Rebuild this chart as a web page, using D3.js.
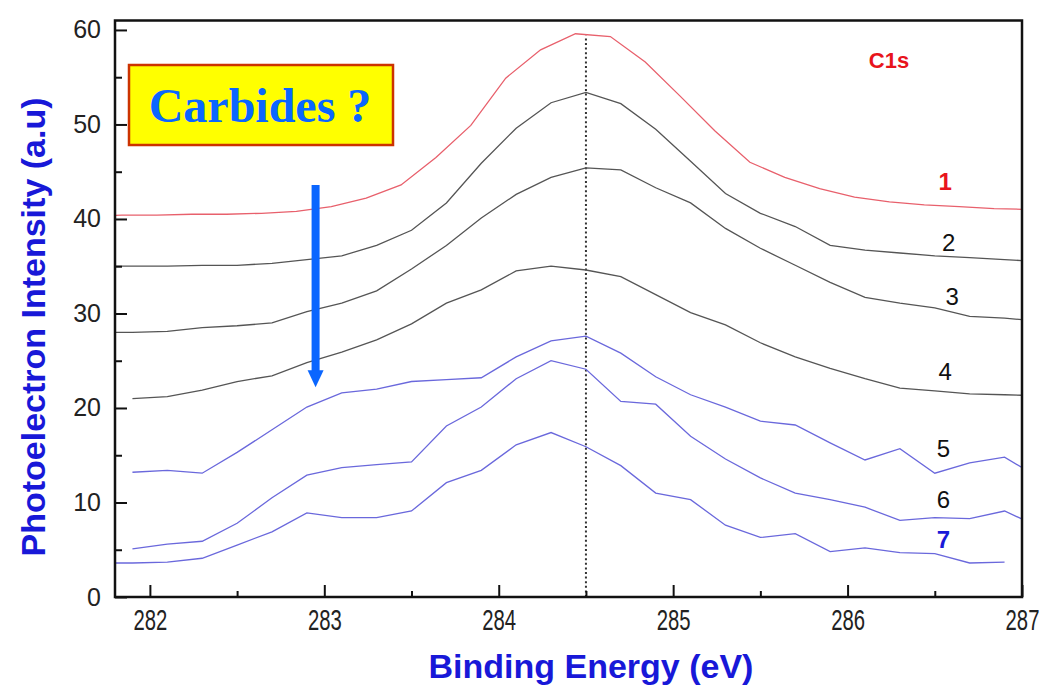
<!DOCTYPE html>
<html>
<head>
<meta charset="utf-8">
<script src="https://cdn.jsdelivr.net/npm/d3@7"></script>
<style>
  body { margin: 0; background: #fff; }
  svg { display: block; font-family: Arial, "Liberation Sans", sans-serif; }
</style>
</head>
<body>
<svg width="1047" height="687"></svg>
<script>
// binding energy grid for spectrum 1 (slightly shifted sampling)
const energy1 = [281.64, 281.84, 282.04, 282.24, 282.44, 282.64, 282.84, 283.04, 283.24, 283.44,
  283.64, 283.84, 284.04, 284.24, 284.44, 284.64, 284.84, 285.04, 285.24, 285.44,
  285.64, 285.84, 286.04, 286.24, 286.44, 286.64, 286.84, 287.04];
const curve1 = [40.3, 40.4, 40.4, 40.5, 40.5, 40.6, 40.8, 41.3, 42.2, 43.6,
  46.5, 49.9, 54.9, 57.9, 59.6, 59.3, 56.6, 53.0, 49.3, 46.0,
  44.4, 43.2, 42.3, 41.8, 41.5, 41.3, 41.1, 41.0];

// binding energy grid for spectra 2-7
const energy = [281.7, 281.9, 282.1, 282.3, 282.5, 282.7, 282.9, 283.1, 283.3, 283.5,
  283.7, 283.9, 284.1, 284.3, 284.5, 284.7, 284.9, 285.1, 285.3, 285.5,
  285.7, 285.9, 286.1, 286.3, 286.5, 286.7, 286.9, 287.1];
const curve2 = [35.0, 35.0, 35.0, 35.1, 35.1, 35.3, 35.7, 36.1, 37.2, 38.8,
  41.7, 45.9, 49.6, 52.3, 53.4, 52.2, 49.5, 46.1, 42.7, 40.6,
  39.2, 37.2, 36.7, 36.4, 36.1, 35.9, 35.7, 35.5];
const curve3 = [28.0, 28.0, 28.1, 28.5, 28.7, 29.0, 30.2, 31.1, 32.4, 34.7,
  37.2, 40.1, 42.6, 44.4, 45.4, 45.2, 43.3, 41.7, 39.0, 36.9,
  35.1, 33.3, 31.7, 31.1, 30.6, 29.7, 29.5, 29.2];
const curve4 = [null, 21.0, 21.2, 21.9, 22.8, 23.4, 24.8, 25.9, 27.2, 28.9,
  31.1, 32.5, 34.5, 35.0, 34.6, 33.9, 32.0, 30.1, 28.8, 26.9,
  25.4, 24.2, 23.1, 22.1, 21.8, 21.5, 21.4, 21.3];
const curve5 = [null, 13.2, 13.4, 13.1, 15.3, 17.7, 20.1, 21.6, 22.0, 22.8,
  23.0, 23.2, 25.4, 27.1, 27.6, 25.8, 23.3, 21.4, 20.1, 18.6,
  18.2, 16.3, 14.5, 15.7, 13.1, 14.2, 14.8, 12.6];
const curve6 = [null, 5.1, 5.6, 5.9, 7.8, 10.5, 12.9, 13.7, 14.0, 14.3,
  18.1, 20.1, 23.1, 25.0, 24.1, 20.7, 20.4, 17.0, 14.6, 12.6,
  11.0, 10.3, 9.5, 8.1, 8.4, 8.3, 9.1, 7.4];
const curve7 = [3.6, 3.6, 3.7, 4.1, 5.5, 6.9, 8.9, 8.4, 8.4, 9.1,
  12.1, 13.4, 16.1, 17.4, 15.9, 13.9, 11.0, 10.3, 7.6, 6.3,
  6.7, 4.8, 5.2, 4.7, 4.6, 3.6, 3.7, null];

const xTicks = [282, 283, 284, 285, 286, 287];
const xMinor = [282.5, 283.5, 284.5, 285.5, 286.5];
const yTicks = [0, 10, 20, 30, 40, 50, 60];
const yMinor = [5, 15, 25, 35, 45, 55];

const series = [
  { name: "1", x: energy1, y: curve1, color: "#e8606c", label: [286.56, 43.1], labelColor: "#e8141c", bold: true },
  { name: "2", x: energy, y: curve2, color: "#555", label: [286.58, 36.6], labelColor: "#111", bold: false },
  { name: "3", x: energy, y: curve3, color: "#555", label: [286.6, 30.9], labelColor: "#111", bold: false },
  { name: "4", x: energy, y: curve4, color: "#555", label: [286.56, 23.0], labelColor: "#111", bold: false },
  { name: "5", x: energy, y: curve5, color: "#6a68dc", label: [286.55, 14.8], labelColor: "#111", bold: false },
  { name: "6", x: energy, y: curve6, color: "#6a68dc", label: [286.55, 9.4], labelColor: "#111", bold: false },
  { name: "7", x: energy, y: curve7, color: "#6a68dc", label: [286.55, 5.2], labelColor: "#1a1ad8", bold: true },
];

const peakEnergy = 284.5;
const peakTop = 59.4;

const svg = d3.select("svg");
const plotLeft = 115, plotRight = 1022, plotTop = 20.5, plotBottom = 597;

const x = d3.scaleLinear().domain([281.8, 287]).range([plotLeft, plotRight]);
const y = d3.scaleLinear().domain([0, 61]).range([plotBottom, plotTop]);

svg.append("clipPath").attr("id", "plot")
  .append("rect")
  .attr("x", plotLeft).attr("y", plotTop)
  .attr("width", plotRight - plotLeft).attr("height", plotBottom - plotTop);

// dotted line at the peak
svg.append("line")
  .attr("x1", x(peakEnergy)).attr("x2", x(peakEnergy))
  .attr("y1", y(0)).attr("y2", y(peakTop))
  .attr("stroke", "#333")
  .attr("stroke-width", 2)
  .attr("stroke-dasharray", "2,2.6");

const line = d3.line()
  .defined((d) => d[1] != null)
  .x((d) => x(d[0]))
  .y((d) => y(d[1]));

svg.append("g").attr("clip-path", "url(#plot)")
  .selectAll("path")
  .data(series)
  .enter()
  .append("path")
  .attr("d", (s) => line(s.x.map((e, i) => [e, s.y[i]])))
  .attr("fill", "none")
  .attr("stroke", (s) => s.color)
  .attr("stroke-width", 1.3);

// curve numbers
svg.selectAll(".num")
  .data(series)
  .enter()
  .append("text")
  .classed("num", true)
  .attr("x", (s) => x(s.label[0]))
  .attr("y", (s) => y(s.label[1]))
  .attr("text-anchor", "middle")
  .attr("font-size", 24)
  .attr("font-weight", (s) => (s.bold ? "bold" : "normal"))
  .attr("fill", (s) => s.labelColor)
  .text((s) => s.name);

svg.append("text")
  .attr("x", 889).attr("y", 68)
  .attr("text-anchor", "middle")
  .attr("font-size", 22)
  .attr("font-weight", "bold")
  .attr("fill", "#e8141c")
  .text("C1s");

// axes, ticks pointing inward
svg.append("g")
  .attr("transform", `translate(0,${plotBottom})`)
  .call(d3.axisBottom(x).tickValues(xTicks).tickSize(-12).tickPadding(12).tickFormat(d3.format("d")))
  .selectAll("text")
  .attr("font-size", 29)
  .attr("transform", "scale(0.7,1)");
svg.append("g")
  .attr("transform", `translate(0,${plotBottom})`)
  .call(d3.axisBottom(x).tickValues(xMinor).tickSize(-6).tickFormat(""));
svg.append("g")
  .attr("transform", `translate(${plotLeft},0)`)
  .call(d3.axisLeft(y).tickValues(yTicks).tickSize(-12).tickPadding(14))
  .selectAll("text")
  .attr("font-size", 25);
svg.append("g")
  .attr("transform", `translate(${plotLeft},0)`)
  .call(d3.axisLeft(y).tickValues(yMinor).tickSize(-7).tickFormat(""));

svg.selectAll(".domain").remove();
svg.selectAll(".tick line").attr("stroke", "#111").attr("stroke-width", 2);
svg.selectAll(".tick text")
  .attr("font-family", "Arial, 'Liberation Sans', sans-serif")
  .attr("fill", "#222");

svg.append("rect")
  .attr("x", plotLeft).attr("y", plotTop)
  .attr("width", plotRight - plotLeft).attr("height", plotBottom - plotTop)
  .attr("fill", "none")
  .attr("stroke", "#111")
  .attr("stroke-width", 2.5);

// axis titles
svg.append("text")
  .attr("x", 591).attr("y", 678)
  .attr("text-anchor", "middle")
  .attr("font-size", 34)
  .attr("font-weight", "bold")
  .attr("fill", "#1818d8")
  .text("Binding Energy (eV)");

svg.append("text")
  .attr("transform", "translate(45,327) rotate(-90)")
  .attr("text-anchor", "middle")
  .attr("font-size", 34)
  .attr("font-weight", "bold")
  .attr("fill", "#1818d8")
  .text("Photoelectron Intensity (a.u)");

// "Carbides ?" annotation
svg.append("rect")
  .attr("x", 129).attr("y", 65)
  .attr("width", 264).attr("height", 80)
  .attr("fill", "#ffff00")
  .attr("stroke", "#cc3300")
  .attr("stroke-width", 2.5);
svg.append("text")
  .attr("x", 260).attr("y", 122)
  .attr("text-anchor", "middle")
  .attr("font-family", "'Liberation Serif', 'Times New Roman', serif")
  .attr("font-size", 48)
  .attr("font-weight", "bold")
  .attr("fill", "#0a66ff")
  .text("Carbides ?");

// blue arrow
const ax = x(282.95);
const aTop = y(43.6), aTip = y(22.2);
svg.append("line")
  .attr("x1", ax).attr("x2", ax)
  .attr("y1", aTop).attr("y2", aTip - 16)
  .attr("stroke", "#0a66ff")
  .attr("stroke-width", 8);
svg.append("path")
  .attr("d", `M${ax - 8},${aTip - 17} L${ax + 8},${aTip - 17} L${ax},${aTip} Z`)
  .attr("fill", "#0a66ff");
</script>
</body>
</html>
